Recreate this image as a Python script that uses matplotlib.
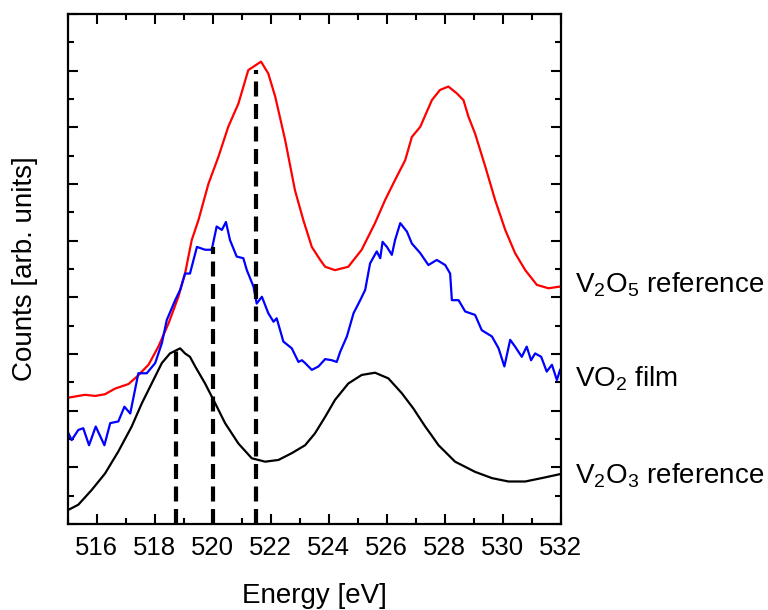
## Espectros XAS del borde L3 del V: referencias V2O5, V2O3 y pelicula de VO2
import matplotlib
matplotlib.use("Agg")
import matplotlib.pyplot as plt
from matplotlib.ticker import MultipleLocator

plt.rcParams['font.family'] = ['Liberation Sans', 'DejaVu Sans']
plt.rcParams['mathtext.fontset'] = 'custom'
plt.rcParams['mathtext.rm'] = 'Liberation Sans'

# V2O5 referencia (rojo)
e_v2o5 = [515.03, 515.60, 515.95, 516.29, 516.64, 517.10, 517.39, 517.79, 518.13, 518.48,
          518.82, 519.05, 519.28, 519.51, 519.86, 520.20, 520.54, 520.89, 521.23, 521.67,
          521.92, 522.16, 522.50, 522.84, 523.13, 523.42, 523.71, 523.88, 524.22, 524.68,
          525.14, 525.60, 525.95, 526.29, 526.64, 526.87, 527.16, 527.56, 527.84, 528.13,
          528.42, 528.65, 528.82, 529.05, 529.40, 529.74, 530.09, 530.43, 530.78, 531.18,
          531.58, 531.98]
c_v2o5 = [2.23, 2.28, 2.26, 2.29, 2.39, 2.47, 2.60, 2.81, 3.13, 3.54,
          4.01, 4.42, 5.01, 5.36, 6.01, 6.48, 7.01, 7.42, 8.01, 8.16,
          7.95, 7.54, 6.78, 5.89, 5.36, 4.89, 4.66, 4.54, 4.48, 4.54,
          4.84, 5.31, 5.72, 6.07, 6.42, 6.83, 7.01, 7.48, 7.66, 7.72,
          7.60, 7.48, 7.19, 6.89, 6.31, 5.72, 5.19, 4.78, 4.48, 4.22,
          4.16, 4.19]

# pelicula VO2 (azul)
e_vo2 = [515.03, 515.14, 515.37, 515.54, 515.74, 515.97, 516.27, 516.47, 516.75, 516.96,
         517.16, 517.44, 517.73, 518.02, 518.25, 518.42, 518.71, 518.88, 519.05, 519.22,
         519.46, 519.74, 519.97, 520.14, 520.32, 520.46, 520.60, 520.83, 521.06, 521.18,
         521.41, 521.52, 521.70, 521.92, 522.10, 522.21, 522.44, 522.73, 522.96, 523.08,
         523.19, 523.42, 523.65, 523.88, 524.11, 524.28, 524.40, 524.63, 524.86, 525.09,
         525.26, 525.43, 525.66, 525.78, 525.86, 526.01, 526.18, 526.29, 526.47, 526.70,
         526.87, 527.16, 527.44, 527.73, 528.02, 528.19, 528.25, 528.48, 528.71, 529.05,
         529.28, 529.63, 529.86, 530.06, 530.26, 530.43, 530.66, 530.83, 530.98, 531.12,
         531.33, 531.52, 531.70, 531.87, 531.98]
c_vo2 = [1.60, 1.48, 1.66, 1.69, 1.39, 1.72, 1.39, 1.78, 1.81, 2.07,
         1.95, 2.66, 2.66, 2.84, 3.19, 3.60, 3.95, 4.13, 4.42, 4.42,
         4.89, 4.84, 4.84, 5.25, 5.19, 5.33, 5.01, 4.72, 4.69, 4.48,
         4.19, 3.89, 4.01, 3.72, 3.57, 3.63, 3.22, 3.10, 2.86, 2.89,
         2.84, 2.72, 2.78, 2.91, 2.89, 2.86, 3.04, 3.31, 3.72, 3.95,
         4.13, 4.60, 4.81, 4.69, 4.98, 4.89, 4.75, 5.01, 5.31, 5.16,
         4.95, 4.78, 4.57, 4.66, 4.57, 4.42, 3.95, 3.95, 3.75, 3.69,
         3.42, 3.31, 3.10, 2.78, 3.25, 3.13, 2.95, 3.13, 2.89, 3.01,
         2.95, 2.69, 2.81, 2.54, 2.72]

# V2O3 referencia (negro)
e_v2o3 = [515.03, 515.37, 515.83, 516.29, 516.75, 517.21, 517.56, 517.90, 518.25, 518.53,
          518.88, 519.05, 519.22, 519.40, 519.74, 520.09, 520.43, 520.89, 521.35, 521.81,
          522.27, 522.73, 523.19, 523.53, 523.88, 524.22, 524.68, 525.14, 525.60, 526.06,
          526.52, 526.92, 527.33, 527.50, 527.79, 528.36, 529.05, 529.63, 530.20, 530.78,
          531.35, 531.98]
c_v2o3 = [0.25, 0.34, 0.60, 0.89, 1.28, 1.72, 2.13, 2.48, 2.84, 3.01,
          3.10, 3.01, 2.95, 2.78, 2.48, 2.13, 1.78, 1.42, 1.16, 1.10,
          1.13, 1.25, 1.39, 1.60, 1.89, 2.19, 2.48, 2.63, 2.67, 2.57,
          2.31, 2.04, 1.72, 1.60, 1.39, 1.10, 0.92, 0.81, 0.75, 0.75,
          0.81, 0.88]

# posiciones de los picos (lineas discontinuas)
pico_e = [518.73, 520.03, 521.50]
pico_top = [3.07, 4.89, 8.01]

fig = plt.figure(figsize=(7.68, 6.10), dpi=100)
ax = fig.add_axes([0.088, 0.141, 0.642, 0.836])

ax.plot(e_v2o5, c_v2o5, "-", color="#ff0000", lw=1.6)
ax.plot(e_vo2, c_vo2, "-", color="#0000ff", lw=1.6)
ax.plot(e_v2o3, c_v2o3, "-", color="black", lw=1.6)
ax.vlines(pico_e, 0, pico_top, colors="black", lw=3, linestyles=(0, (3.6, 1.8)), zorder=3)

ax.set_xlim(515, 532)
ax.set_ylim(0, 9)
ax.xaxis.set_major_locator(MultipleLocator(2))
ax.xaxis.set_minor_locator(MultipleLocator(1))
ax.yaxis.set_major_locator(MultipleLocator(1))
ax.yaxis.set_minor_locator(MultipleLocator(0.5))
ax.tick_params(which="both", direction="in", top=True, right=True, width=1.5, labelsize=18.5, pad=9)
ax.tick_params(which="major", length=7.5)
ax.tick_params(which="minor", length=4)
ax.tick_params(axis="y", labelleft=False)
for s in ax.spines.values():
    s.set_linewidth(1.6)

ax.set_xlabel("Energy [eV]", fontsize=20, labelpad=16)
ax.set_ylabel("Counts [arb. units]", fontsize=20)
ax.yaxis.set_label_coords(-0.06, 0.5)

ax.text(532.5, 4.08, r"V$\mathregular{_2}$O$\mathregular{_5}$ reference", fontsize=20, va="baseline", clip_on=False)
ax.text(532.5, 2.43, r"VO$\mathregular{_2}$ film", fontsize=20, va="baseline", clip_on=False)
ax.text(532.5, 0.72, r"V$\mathregular{_2}$O$\mathregular{_3}$ reference", fontsize=20, va="baseline", clip_on=False)

fig.savefig("out.png", dpi=100)
